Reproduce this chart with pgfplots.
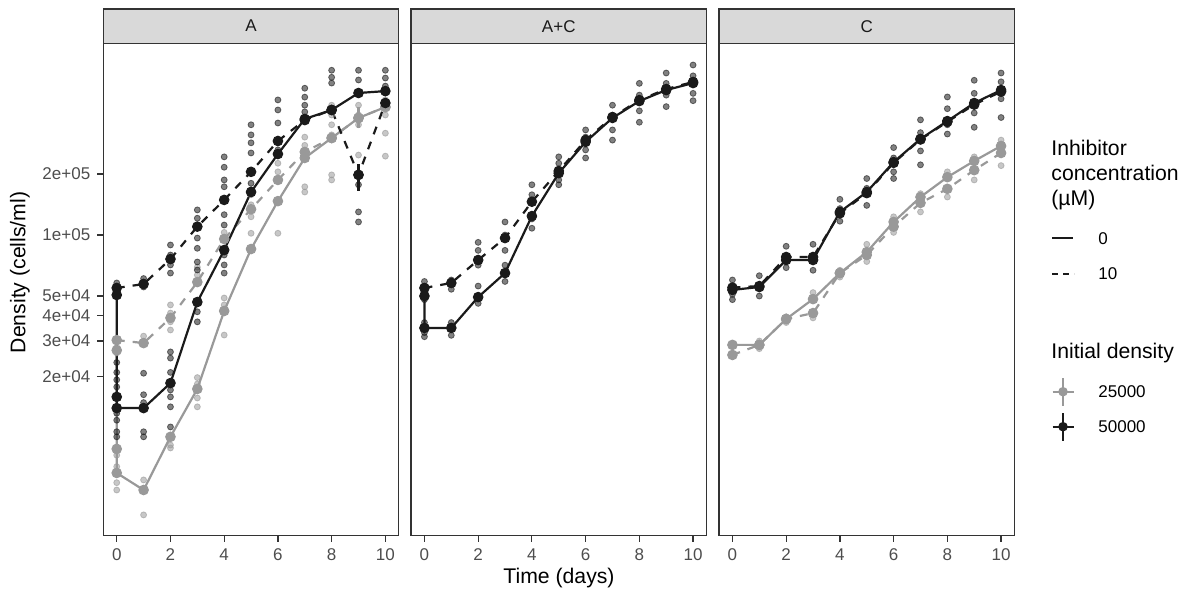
\documentclass[border=0pt]{standalone}
\usepackage{fontspec}
\setmainfont{Liberation Sans}
\usepackage{pgfplots}
\pgfplotsset{compat=1.18}
\usepackage{pgfplotstable}
\definecolor{dk}{HTML}{1A1A1A}
\definecolor{lg}{HTML}{999999}
\definecolor{bord}{HTML}{333333}
\definecolor{tickc}{HTML}{4D4D4D}
\definecolor{stripc}{HTML}{D9D9D9}

% ---------- Panel A ----------
\pgfplotstableread{
t v
0 50600
0 15900
0 14000
1 14000
2 18600
3 46700
4 84300
5 163000
6 251000
7 374000
8 414000
9 502000
10 513000
}\AblkS
\pgfplotstableread{
t v
0 54800
1 57300
2 76100
3 110000
4 149000
5 205000
6 291000
7 369000
8 414000
9 198000
10 448000
}\AblkD
\pgfplotstableread{
t v
0 27000
0 8800
0 6700
1 5520
2 10100
3 17400
4 42200
5 85300
6 147000
7 240000
8 301000
9 378000
10 428000
}\AgrS
\pgfplotstableread{
t v
0 30300
1 29300
2 39000
3 58600
4 95600
5 134000
6 187000
7 257000
8 301000
9 378000
10 428000
}\AgrD
\pgfplotstableread{
t v ep em
9 198000 27000 33000
}\AerrB
\pgfplotstableread{
t v ep em
9 378000 50000 42000
}\AerrG
\pgfplotstableread{
t v
0 58000
0 55400
0 51800
0 23500
0 21000
0 19300
0 17800
0 15900
0 14200
0 13200
0 12200
0 10700
0 10100
1 61000
1 58600
1 55400
1 20800
1 16300
1 14900
1 10700
1 10100
2 89300
2 79700
2 71200
2 64900
2 26500
2 24700
2 21000
2 17200
2 15900
2 14200
2 11300
3 133000
3 121000
3 110000
3 96600
3 86000
3 73600
3 67200
3 41800
3 37300
4 243000
4 216000
4 187000
4 173000
4 126000
4 112000
4 79700
4 71200
4 64900
5 350000
5 312000
5 285000
5 254000
5 180000
5 167000
6 464000
6 414000
6 357000
6 263000
7 530000
7 479000
7 437000
7 405000
8 650000
8 600000
8 562000
9 650000
9 582000
9 177000
9 130000
9 116000
10 650000
10 595000
10 543000
10 502000
}\ArepB
\pgfplotstableread{
t v
0 30300
0 28000
0 26200
0 9000
0 8200
0 7200
0 6600
0 6000
0 5520
1 31700
1 29300
1 6190
1 5520
1 4160
2 45200
2 41200
2 37300
2 34000
2 10100
2 9200
2 8900
3 69400
3 63500
3 58600
3 19800
3 18400
3 15700
3 14200
4 103000
4 94500
4 86000
4 48900
4 45200
4 32100
5 158000
5 141000
5 123000
5 102000
6 226000
6 205000
6 187000
6 102000
7 304000
7 277000
7 254000
7 173000
7 163000
8 437000
8 391000
8 350000
8 312000
8 198000
8 187000
9 437000
9 391000
9 350000
9 248000
10 464000
10 422000
10 391000
10 318000
10 245000
}\ArepG

% ---------- Panel A+C ----------
\pgfplotstableread{
t v
0 50000
0 34800
1 34800
2 49400
3 64900
4 124000
5 202000
6 288000
7 378000
8 458000
9 519000
10 562000
}\ACblkS
\pgfplotstableread{
t v
0 54800
1 58000
2 75300
3 96600
4 146000
5 207000
6 294000
7 382000
8 463000
9 525000
10 569000
}\ACblkD
\pgfplotstableread{
t v
0 59000
0 55000
0 51000
0 48000
0 37000
0 35000
0 33000
0 31500
1 60000
1 54000
1 37000
1 32000
2 92000
2 84000
2 71000
2 56000
2 46000
3 116000
3 100000
3 84000
3 71000
3 59000
4 177000
4 158000
4 120000
4 108000
5 243000
5 226000
5 187000
5 177000
6 330000
6 304000
6 263000
6 240000
7 437000
7 390000
7 330000
7 294000
8 560000
8 490000
8 410000
8 360000
9 630000
9 560000
9 490000
9 430000
10 690000
10 610000
10 500000
10 460000
}\ACrepB

% ---------- Panel C ----------
\pgfplotstableread{
t v
0 53600
1 55400
2 75300
3 75300
4 130000
5 163000
6 229000
7 298000
8 365000
9 448000
10 519000
}\CblkS
\pgfplotstableread{
t v
0 55000
1 56000
2 77900
3 77900
4 128000
5 161000
6 227000
7 296000
8 362000
9 440000
10 510000
}\CblkD
\pgfplotstableread{
t v
0 28700
1 28700
2 38500
3 48300
4 64900
5 82400
6 116000
7 154000
8 193000
9 232000
10 275000
}\CgrS
\pgfplotstableread{
t v
0 25600
1 28700
2 38500
3 41200
4 64900
5 79700
6 110000
7 144000
8 169000
9 209000
10 254000
}\CgrD
\pgfplotstableread{
t v
0 60000
0 56000
0 51000
0 48000
1 63000
1 50000
2 88000
2 79000
2 69000
3 90000
3 75000
3 67000
4 150000
4 135000
4 117000
5 190000
5 170000
5 140000
6 270000
6 240000
6 205000
6 190000
7 370000
7 320000
7 260000
7 222000
8 480000
8 420000
8 350000
8 315000
9 580000
9 500000
9 400000
9 340000
10 630000
10 570000
10 470000
10 380000
}\CrepB
\pgfplotstableread{
t v
0 29000
0 26000
0 25500
1 30000
1 27500
2 39500
2 37000
3 52000
3 39000
4 67000
4 62000
5 90000
5 74000
6 123000
6 103000
7 160000
7 130000
8 205000
8 154000
9 243000
9 187000
10 294000
10 220000
}\CrepG

\pgfplotsset{
  repB/.style={only marks, mark=*, mark size=1.5pt,
    mark options={draw=dk, fill=dk, draw opacity=0.6, fill opacity=0.55}},
  repG/.style={only marks, mark=*, mark size=1.5pt,
    mark options={draw=lg, fill=lg, draw opacity=0.6, fill opacity=0.55}},
  meanB/.style={color=dk, line width=1.1pt, mark=*, mark size=2.4pt, mark options={solid, fill=dk, line width=0.5pt}},
  meanG/.style={color=lg, line width=1.1pt, mark=*, mark size=2.4pt, mark options={solid, fill=lg, line width=0.5pt}},
  dsh/.style={dash pattern=on 4pt off 4pt},
}

\begin{document}
\begin{tikzpicture}
\path[use as bounding box] (0,0) rectangle (599pt,297.5pt);

% Panel A
\begin{axis}[ymode=log, ymin=3285, ymax=883000,
  scale only axis, width=147.75pt, height=246.2pt,
  anchor=south west, name=A, at={(51.65pt,29.65pt)},
  xmin=-0.5, xmax=10.5, tick pos=left,
  axis line style={bord, line width=0.6pt},
  tick style={bord, line width=0.6pt},
  tick align=outside, major tick length=3pt, minor tick length=0pt,
  xtick={0,2,4,6,8,10}, xticklabels={0,2,4,6,8,10},
  ticklabel style={font=\fontsize{8.5}{10}\selectfont, text=tickc},
  ytick={20000,30000,40000,50000,100000,200000},
  yticklabels={2e+04,3e+04,4e+04,5e+04,1e+05,2e+05}]
\addplot[repG] table[x=t,y=v] {\ArepG};
\addplot[repB] table[x=t,y=v] {\ArepB};
\addplot[meanG] table[x=t,y=v] {\AgrS};
\addplot[meanG, dsh] table[x=t,y=v] {\AgrD};
\addplot[meanB] table[x=t,y=v] {\AblkS};
\addplot[meanB, dsh] table[x=t,y=v] {\AblkD};
\addplot[lg, line width=1.1pt, only marks, mark=none, error bars/.cd, y dir=both, y explicit, error bar style={lg, line width=1.1pt}, error mark=none]
  table[x=t, y=v, y error plus=ep, y error minus=em] {\AerrG};
\addplot[dk, line width=1.1pt, only marks, mark=none, error bars/.cd, y dir=both, y explicit, error bar style={dk, line width=1.1pt}, error mark=none]
  table[x=t, y=v, y error plus=ep, y error minus=em] {\AerrB};
\end{axis}

% Panel A+C
\begin{axis}[ymode=log, ymin=3285, ymax=883000,
  scale only axis, width=147.75pt, height=246.2pt,
  anchor=south west, name=AC, at={(205.5pt,29.65pt)},
  xmin=-0.5, xmax=10.5, tick pos=left,
  axis line style={bord, line width=0.6pt},
  tick style={bord, line width=0.6pt},
  tick align=outside, major tick length=3pt, minor tick length=0pt,
  xtick={0,2,4,6,8,10}, xticklabels={0,2,4,6,8,10},
  ticklabel style={font=\fontsize{8.5}{10}\selectfont, text=tickc},
  ytick=\empty]
\addplot[repB] table[x=t,y=v] {\ACrepB};
\addplot[meanB] table[x=t,y=v] {\ACblkS};
\addplot[meanB, dsh] table[x=t,y=v] {\ACblkD};
\end{axis}

% Panel C
\begin{axis}[ymode=log, ymin=3285, ymax=883000,
  scale only axis, width=147.75pt, height=246.2pt,
  anchor=south west, name=C, at={(359.5pt,29.65pt)},
  xmin=-0.5, xmax=10.5, tick pos=left,
  axis line style={bord, line width=0.6pt},
  tick style={bord, line width=0.6pt},
  tick align=outside, major tick length=3pt, minor tick length=0pt,
  xtick={0,2,4,6,8,10}, xticklabels={0,2,4,6,8,10},
  ticklabel style={font=\fontsize{8.5}{10}\selectfont, text=tickc},
  ytick=\empty]
\addplot[repG] table[x=t,y=v] {\CrepG};
\addplot[repB] table[x=t,y=v] {\CrepB};
\addplot[meanG] table[x=t,y=v] {\CgrS};
\addplot[meanG, dsh] table[x=t,y=v] {\CgrD};
\addplot[meanB] table[x=t,y=v] {\CblkS};
\addplot[meanB, dsh] table[x=t,y=v] {\CblkD};
\end{axis}

% strips
\foreach \p/\lab in {A/A, AC/A+C, C/C}{
  \draw[bord, line width=0.6pt, fill=stripc] (\p.north west) rectangle ([yshift=17.15pt]\p.north east);
  \node[font=\fontsize{8.5}{10}\selectfont, text=dk] at ([yshift=8.575pt]\p.north) {\lab};
}

% axis titles
\node[font=\fontsize{10.6}{12}\selectfont, text=black] at (279.5pt,8.5pt) {Time (days)};
\node[font=\fontsize{10.6}{12}\selectfont, text=black, rotate=90] at (10pt,161.25pt) {Density (cells/ml)};

% legend: inhibitor
\begin{scope}[font=\fontsize{10.6}{12}\selectfont]
\node[anchor=base west, inner sep=0pt] at (525.5pt,219.65pt) {Inhibitor};
\node[anchor=base west, inner sep=0pt] at (525.5pt,207.15pt) {concentration};
\node[anchor=base west, inner sep=0pt] at (525.5pt,194.65pt) {(µM)};
\node[anchor=base west, inner sep=0pt] at (525.5pt,118.5pt) {Initial density};
\end{scope}
\draw[dk, line width=1.1pt] (526pt,178.35pt) -- (536.5pt,178.35pt);
\draw[dk, line width=1.1pt, dash pattern=on 3pt off 2.5pt] (526pt,160.5pt) -- (537pt,160.5pt);
\begin{scope}[font=\fontsize{8.5}{10}\selectfont]
\node[anchor=west, inner sep=0pt] at (549pt,178.35pt) {0};
\node[anchor=west, inner sep=0pt] at (549pt,160.5pt) {10};
\node[anchor=west, inner sep=0pt] at (549pt,101.65pt) {25000};
\node[anchor=west, inner sep=0pt] at (549pt,84.15pt) {50000};
\end{scope}
% legend: initial density glyphs
\draw[lg, line width=1.1pt] (526.25pt,101.65pt) -- (536.75pt,101.65pt) (531.5pt,94.65pt) -- (531.5pt,108.65pt);
\fill[lg] (531.5pt,101.65pt) circle (2.4pt);
\draw[dk, line width=1.1pt] (526.25pt,84.15pt) -- (536.75pt,84.15pt) (531.5pt,77.15pt) -- (531.5pt,91.15pt);
\fill[dk] (531.5pt,84.15pt) circle (2.4pt);
\end{tikzpicture}
\end{document}
